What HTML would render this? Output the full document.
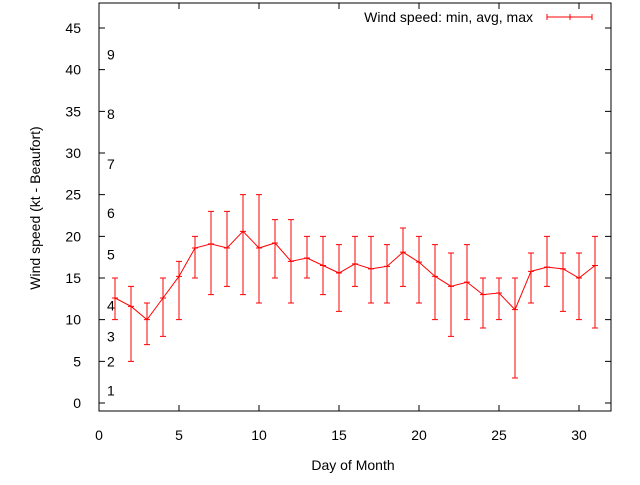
<!DOCTYPE html>
<html><head><meta charset="utf-8"><style>
body{margin:0;background:#fff}
svg text{font-family:"Liberation Sans",sans-serif;font-size:14px;fill:#000}
</style></head><body>
<svg id="c" width="640" height="480"></svg>
<script>
const days=[1,2,3,4,5,6,7,8,9,10,11,12,13,14,15,16,17,18,19,20,21,22,23,24,25,26,27,28,29,30,31];
const avgs=[12.6,11.6,10,12.6,15.2,18.6,19.1,18.6,20.6,18.6,19.2,17,17.4,16.5,15.6,16.7,16.1,16.4,18.1,16.9,15.2,14,14.5,13,13.2,11.2,15.8,16.3,16.1,15,16.5];
const mins=[10,5,7,8,10,15,13,14,13,12,15,12,15,13,11,14,12,12,14,12,10,8,10,9,10,3,12,14,11,10,9];
const maxs=[15,14,12,15,17,20,23,23,25,25,22,22,20,20,19,20,20,19,21,20,19,18,19,15,15,15,18,20,18,18,20];
const xTicks=[0,5,10,15,20,25,30];
const yTicks=[0,5,10,15,20,25,30,35,40,45];
const bft=[["1",1.5],["2",5],["3",8],["4",11.7],["5",17.8],["6",22.8],["7",28.7],["8",34.7],["9",41.8]];
const L=99,R=611,T=3,B=411;
const X=v=>L+v*16;
const Y=v=>403-v*(400/48);
const svg=document.getElementById('c');
const NS='http://www.w3.org/2000/svg';
function mk(t,a,p){const e=document.createElementNS(NS,t);for(const k in a)e.setAttribute(k,a[k]);(p||svg).appendChild(e);return e;}
const frame=mk('rect',{x:L,y:T,width:R-L,height:B-T,fill:'none',stroke:'#000','stroke-width':1});


xTicks.forEach(v=>{
 const t=mk('path',{d:`M${X(v)},${B}v-6M${X(v)},${T}v6`,stroke:'#000'});
 
 
 const l=mk('text',{x:X(v),y:440,'text-anchor':'middle'});l.textContent=v;
 
 
});
yTicks.forEach(v=>{
 const t=mk('path',{d:`M${L},${Y(v)}h6M${R},${Y(v)}h-6`,stroke:'#000'});
 
 
 const l=mk('text',{x:81,y:Y(v)+5,'text-anchor':'end'});l.textContent=v;
 
 
});
bft.forEach(([s,v])=>{
 const l=mk('text',{x:107,y:Y(v)+5});l.textContent=s;
 
 
});
const xt=mk('text',{x:353,y:470,'text-anchor':'middle'});xt.textContent='Day of Month';


const yt=mk('text',{x:0,y:0,'text-anchor':'middle',transform:'translate(40,208) rotate(-90)'});yt.textContent='Wind speed (kt - Beaufort)';


const line=mk('polyline',{points:days.map((d,i)=>X(d)+','+Y(avgs[i])).join(' '),fill:'none',stroke:'#f00','stroke-width':1});


days.forEach((d,i)=>{
 const x=X(d);
 const e=mk('path',{d:`M${x},${Y(mins[i])}V${Y(maxs[i])}M${x-3},${Y(mins[i])}h6M${x-3},${Y(maxs[i])}h6M${x-3},${Y(avgs[i])}h6`,stroke:'#f00','stroke-width':1,fill:'none'});
 
 
});
const lt=mk('text',{x:533,y:22,'text-anchor':'end'});lt.textContent='Wind speed: min, avg, max';


const ls=mk('path',{d:'M547,17H592M547,14v6M570,14v6M592,14v6',stroke:'#f00',fill:'none'});


</script>
</body></html>
